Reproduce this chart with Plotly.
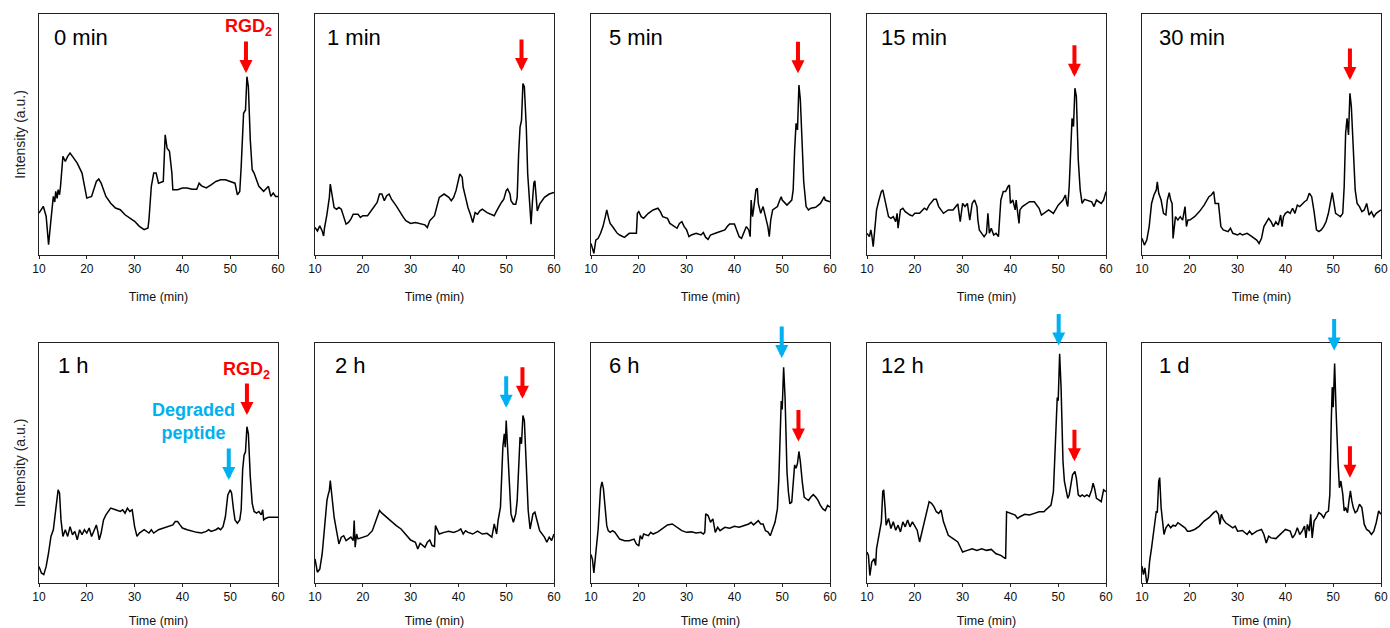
import plotly.graph_objects as go

# ---------------- data (retention time in min, intensity in a.u., 0-100 scale) -------------
panel_labels = ["0 min", "1 min", "5 min", "15 min", "30 min", "1 h", "2 h", "6 h", "12 h", "1 d"]
tick_vals = [10, 20, 30, 40, 50, 60]

t_0min = [10, 10.9, 11.5, 12, 12.5, 13, 13.3, 13.5, 13.8, 14, 14.3, 14.5, 15, 15.5, 16, 16.5, 17, 18, 19, 19.5,
          20, 21, 22, 22.5, 23, 24, 25, 26, 27, 28, 29, 30, 31, 32, 32.8, 33, 33.5, 34, 34.5, 35,
          36, 36.4, 36.8, 37.3, 37.8, 38, 39, 40, 41, 42, 43, 43.5, 44, 45, 46, 47, 48, 49, 50, 51,
          51.5, 52, 52.3, 52.8, 53.2, 53.5, 53.8, 54.2, 54.6, 55, 55.5, 56, 57, 58, 58.5, 59, 59.5, 60]
i_0min = [17.4, 20.2, 16.0, 4.3, 14.6, 24.3, 22.0, 26.4, 23.5, 27.1, 25.0, 28.5, 40.9, 38.8, 40.9, 42.3, 40.9, 38.1, 34.0, 28.5,
          23.6, 24.3, 30.5, 31.5, 29.8, 24.3, 21.5, 19.5, 18.8, 16.7, 15.3, 14.0, 11.9, 10.5, 11.2, 14.6, 28.5, 34.0, 34.0, 29.8,
          30.5, 49.9, 44.3, 43.0, 34.0, 27.1, 27.1, 27.8, 27.8, 27.3, 27.3, 29.8, 28.7, 27.8, 29.1, 30.5, 31.2, 31.2, 30.5, 29.8,
          25.0, 26.4, 36.7, 58.8, 60.2, 74.0, 69.9, 47.8, 35.4, 34.0, 31.2, 28.5, 26.4, 28.5, 24.3, 25.7, 24.3, 24.3]

t_1min = [10, 10.5, 11, 11.5, 11.8, 12, 12.5, 13, 13.2, 13.5, 14, 14.5, 15, 15.5, 16, 16.5, 17, 17.5, 18, 19,
          19.5, 20, 21, 22, 23, 23.5, 24, 24.5, 25, 25.5, 26, 27, 28, 28.5, 29, 30, 31, 32, 33, 33.5,
          34, 35, 35.5, 36, 37, 38, 38.5, 39, 39.5, 40, 40.3, 40.8, 41, 41.5, 42, 42.5, 43, 43.5, 44, 44.5,
          45, 46, 47, 47.5, 48, 48.5, 49, 49.5, 50, 50.3, 50.8, 51, 51.5, 52, 52.3, 52.6, 52.9, 53.2, 53.5, 53.8,
          54.2, 54.5, 55, 55.2, 55.5, 55.8, 56, 56.3, 56.5, 57, 58, 59, 59.5, 60]
i_1min = [11.4, 10.0, 12.1, 10.0, 7.9, 11.4, 16.9, 23.9, 29.4, 25.3, 19.7, 19.0, 19.7, 19.0, 15.6, 12.8, 13.5, 14.9, 16.9, 16.9,
          15.6, 16.3, 16.3, 19.0, 21.8, 25.3, 25.3, 22.5, 24.6, 25.3, 23.2, 20.4, 16.9, 15.6, 14.2, 13.1, 13.5, 13.1, 12.5, 11.4,
          14.2, 16.3, 19.7, 23.9, 25.3, 23.9, 22.5, 23.9, 26.7, 30.8, 33.6, 32.2, 28.1, 23.9, 19.7, 16.9, 13.5, 17.6, 16.9, 18.3,
          19.0, 17.6, 16.9, 16.3, 18.3, 20.4, 21.8, 23.2, 26.7, 27.4, 25.3, 22.5, 21.1, 21.1, 23.9, 41.9, 53.1, 55.8, 71.1, 69.7,
          53.1, 33.6, 21.1, 12.8, 22.5, 30.1, 30.8, 22.5, 18.3, 21.1, 23.9, 25.3, 25.6, 26.0]

t_5min = [10, 10.3, 10.6, 11, 11.5, 12, 12.5, 13, 13.3, 13.7, 14, 14.5, 15, 15.5, 16, 17, 18, 19, 19.5, 19.7,
          20, 20.5, 21, 22, 23, 24, 24.5, 25, 26, 26.5, 27, 28, 28.5, 29, 29.5, 30, 30.5, 31, 32, 33,
          33.5, 34, 34.5, 35, 36, 37, 38, 38.5, 39, 40, 40.5, 41, 41.5, 42, 42.5, 43, 43.3, 43.5, 43.8, 44,
          44.5, 44.8, 45, 45.5, 46, 46.5, 47, 47.3, 47.6, 48, 49, 49.5, 49.8, 50, 51, 52, 52.3, 52.6, 52.9, 53.2,
          53.5, 53.8, 54.2, 54.5, 55, 55.5, 56, 57, 58, 58.8, 59, 60]
i_5min = [4.8, 2.8, 0.7, 6.2, 6.9, 9.0, 11.8, 15.9, 18.7, 15.2, 13.1, 11.8, 10.4, 9.0, 8.3, 7.3, 9.0, 9.0, 9.0, 17.3,
          18.0, 15.9, 15.2, 17.3, 18.7, 19.4, 18.0, 15.9, 15.2, 13.1, 12.4, 11.1, 13.1, 13.8, 11.8, 10.4, 7.6, 8.3, 9.0, 8.3,
          9.3, 7.3, 6.5, 8.3, 9.0, 9.7, 10.4, 11.8, 12.9, 12.9, 10.4, 7.6, 6.9, 9.0, 11.8, 10.4, 7.6, 22.8, 15.9, 18.7,
          27.0, 27.7, 21.4, 17.3, 20.1, 15.9, 11.8, 7.6, 14.5, 18.7, 20.1, 22.8, 24.2, 22.8, 20.7, 22.8, 27.0, 43.6, 54.6, 51.9,
          70.5, 64.3, 40.8, 30.4, 20.1, 18.7, 19.4, 19.8, 21.4, 24.2, 22.8, 22.1]

t_15min = [10, 10.5, 10.8, 11, 11.3, 11.6, 12, 12.5, 13, 13.3, 13.7, 14, 14.5, 15, 15.5, 16, 16.3, 16.5, 17, 17.5,
           18, 19, 19.5, 20, 21, 22, 22.5, 23, 24, 24.5, 25, 26, 27, 28, 29, 29.5, 30, 30.5, 31, 31.5,
           32, 32.5, 33, 33.2, 33.5, 34, 34.5, 35, 35.3, 35.6, 36, 36.5, 37, 37.5, 38, 38.5, 39, 39.5, 39.8, 40,
           40.5, 41, 41.2, 41.8, 42, 42.5, 43, 44, 45, 46, 46.5, 47, 48, 49, 50, 51, 51.5, 51.8, 52, 52.3,
           52.6, 52.9, 53.2, 53.5, 53.8, 54.2, 54.6, 55, 55.5, 56, 57, 57.5, 58, 59, 59.5, 60]
i_15min = [9.0, 7.6, 10.4, 8.3, 3.5, 9.0, 18.7, 22.8, 26.3, 27.0, 22.8, 20.1, 15.9, 15.2, 15.9, 13.8, 17.3, 11.1, 18.7, 19.4,
           18.0, 16.6, 16.2, 17.3, 17.3, 19.4, 18.7, 20.7, 23.1, 23.1, 20.1, 17.3, 18.7, 18.7, 21.2, 13.8, 21.4, 20.1, 21.4, 14.5,
           21.4, 22.8, 20.1, 14.5, 10.4, 9.0, 7.6, 9.0, 17.3, 9.0, 11.1, 8.3, 9.0, 7.6, 22.8, 26.3, 26.3, 28.4, 29.0, 21.4,
           22.8, 18.7, 22.8, 13.1, 18.7, 20.1, 20.7, 22.1, 22.1, 19.4, 16.6, 17.3, 18.7, 17.3, 20.7, 22.8, 24.9, 21.4, 20.1, 28.4,
           46.3, 56.7, 53.3, 69.2, 65.7, 39.4, 27.0, 21.4, 23.1, 22.8, 22.1, 20.1, 22.8, 21.4, 22.8, 26.3]

t_30min = [10, 10.5, 11, 11.5, 12, 12.5, 13, 13.2, 13.5, 14, 14.5, 15, 15.3, 15.7, 16, 16.3, 16.5, 17, 17.5, 18,
           18.5, 19, 19.3, 19.6, 20, 21, 22, 23, 24, 24.5, 25, 25.3, 26, 26.5, 27, 28, 28.5, 29, 30, 30.5,
           31, 32, 33, 34, 34.5, 35, 35.5, 36, 36.5, 37, 37.5, 38, 38.5, 39, 39.3, 39.6, 40, 40.5, 41, 41.5,
           42, 42.5, 43, 44, 44.5, 45, 45.5, 46, 46.5, 47, 47.5, 48, 48.5, 49, 49.5, 49.8, 50, 50.5, 51, 51.5,
           52, 52.3, 52.6, 52.9, 53.2, 53.5, 53.8, 54.2, 54.6, 55, 55.5, 56, 56.5, 57, 57.5, 58, 58.5, 59, 59.5, 60]
i_30min = [6.9, 4.1, 6.2, 11.8, 21.4, 24.9, 27.0, 30.4, 25.6, 22.8, 17.3, 16.6, 22.8, 25.9, 22.8, 21.4, 6.9, 15.9, 14.5, 15.9,
           14.5, 20.1, 11.8, 14.5, 14.5, 15.9, 18.0, 20.7, 24.2, 24.9, 26.3, 21.4, 21.4, 11.8, 10.4, 9.7, 11.1, 9.0, 8.3, 9.0,
           8.3, 9.0, 7.6, 6.2, 4.8, 6.9, 11.8, 13.8, 15.2, 13.8, 11.8, 13.8, 12.4, 16.6, 11.8, 15.9, 17.3, 18.0, 17.3, 19.4,
           17.3, 20.7, 20.1, 22.1, 22.8, 25.6, 24.2, 18.0, 10.4, 9.7, 10.4, 11.8, 13.8, 17.3, 22.8, 25.9, 23.5, 17.3, 16.6, 15.9,
           17.3, 28.4, 50.5, 56.7, 49.8, 67.1, 61.5, 40.8, 27.0, 21.4, 20.1, 18.0, 18.7, 21.4, 16.6, 18.0, 15.9, 17.3, 18.0, 18.7]

t_1h = [10, 10.5, 11, 11.5, 12, 12.5, 13, 13.5, 14, 14.3, 14.6, 15, 15.5, 16, 16.5, 17, 17.5, 18, 18.5, 19,
        19.5, 20, 20.5, 21, 21.5, 22, 22.3, 22.6, 23, 23.5, 24, 25, 26, 27, 27.5, 28, 28.5, 29, 29.5, 30,
        30.5, 31, 32, 33, 33.5, 34, 35, 36, 37, 38, 38.5, 39, 39.5, 40, 41, 42, 43, 44, 45, 45.5,
        46, 47, 47.5, 48, 48.5, 49, 49.5, 50, 50.3, 50.7, 51, 51.5, 52, 52.3, 52.6, 52.9, 53.2, 53.5, 53.8, 54.2,
        54.6, 55, 55.5, 56, 56.5, 56.8, 57, 57.5, 58, 59, 60]
i_1h = [6.9, 4.2, 3.5, 6.9, 12.5, 19.4, 22.2, 31.9, 38.8, 37.4, 26.3, 19.4, 22.2, 19.4, 23.5, 20.1, 21.5, 18.0, 22.2, 20.1,
        22.2, 20.8, 22.9, 19.4, 22.2, 24.2, 21.5, 18.0, 20.8, 26.3, 28.4, 31.2, 30.5, 29.8, 30.5, 29.1, 31.2, 29.8, 30.5, 23.5,
        19.4, 20.8, 22.2, 20.8, 22.2, 20.8, 22.2, 22.9, 23.5, 24.2, 25.6, 25.6, 24.2, 22.9, 22.2, 21.5, 21.1, 20.8, 21.5, 22.2,
        21.5, 22.2, 22.9, 22.2, 23.5, 27.7, 36.7, 38.8, 37.4, 30.5, 26.3, 24.9, 26.3, 30.5, 47.1, 53.3, 54.7, 65.1, 62.3, 44.3,
        33.2, 29.8, 29.1, 29.8, 28.4, 30.5, 26.3, 27.0, 27.4, 27.4, 27.4]

t_2h = [10, 10.5, 11, 11.5, 12, 12.5, 12.8, 13, 13.2, 13.5, 14, 14.5, 15, 15.5, 16, 16.5, 17, 17.5, 18, 18.2,
        18.4, 18.7, 19, 20, 21, 22, 22.5, 23, 23.5, 24, 25, 26, 27, 28, 29, 30, 31, 31.5, 32, 33,
        33.5, 34, 34.5, 35, 35.2, 36, 37, 38, 39, 40, 40.5, 41, 41.5, 42, 43, 44, 45, 46, 47, 47.5,
        48, 48.3, 48.8, 49, 49.3, 49.6, 49.8, 50, 50.3, 50.6, 51, 51.5, 52, 52.3, 52.6, 52.9, 53.2, 53.5, 53.8, 54.2,
        54.6, 55, 55.3, 55.6, 56, 56.5, 57, 58, 58.5, 59, 59.5, 60]
i_2h = [10.0, 4.5, 5.8, 12.1, 23.2, 34.4, 37.1, 38.5, 42.7, 35.7, 27.4, 21.8, 16.3, 19.1, 19.7, 17.7, 18.4, 19.1, 17.7, 26.0,
        14.9, 20.4, 18.4, 19.1, 19.7, 21.8, 24.6, 27.4, 30.2, 29.1, 27.4, 25.3, 23.9, 22.5, 20.4, 17.9, 17.0, 14.2, 16.6, 14.9,
        17.0, 17.9, 15.6, 15.2, 23.9, 20.4, 21.1, 21.6, 21.1, 21.8, 22.5, 20.4, 21.8, 21.1, 20.4, 21.6, 20.4, 20.7, 19.1, 24.6,
        20.4, 26.0, 31.6, 42.7, 56.6, 62.2, 56.6, 67.7, 56.6, 42.7, 28.8, 25.3, 28.8, 34.4, 49.7, 60.8, 58.0, 69.8, 67.7, 49.7,
        30.2, 22.5, 26.0, 28.8, 29.5, 26.0, 21.8, 19.1, 17.0, 19.1, 17.7, 20.4]

t_6h = [10, 10.3, 10.6, 11, 11.5, 12, 12.3, 12.6, 13, 13.3, 13.6, 14, 14.5, 15, 16, 17, 18, 19, 19.5, 20,
        20.3, 20.7, 21, 22, 22.5, 23, 24, 25, 26, 27, 28, 29, 30, 31, 32, 33, 33.5, 33.8, 34, 34.5,
        35, 35.5, 36, 36.5, 37, 38, 39, 40, 41, 42, 43, 43.5, 44, 45, 45.5, 46, 46.5, 47, 47.5, 48,
        48.5, 49, 49.3, 49.6, 49.8, 50, 50.3, 50.6, 50.8, 51, 51.3, 51.6, 52, 52.3, 52.6, 52.9, 53.2, 53.5, 53.8, 54.2,
        54.6, 55, 55.5, 56, 56.5, 57, 57.5, 58, 58.5, 59, 59.5, 60]
i_6h = [11.9, 9.8, 4.2, 11.2, 22.5, 39.3, 42.1, 39.3, 29.5, 23.9, 21.8, 21.1, 21.8, 21.1, 18.3, 17.6, 17.6, 18.3, 16.2, 15.4,
        19.7, 18.3, 20.4, 19.7, 21.1, 20.4, 21.3, 22.8, 24.2, 24.6, 23.2, 21.8, 21.1, 21.3, 20.8, 21.1, 20.4, 21.1, 28.8, 28.1,
        25.3, 26.7, 21.1, 23.2, 21.8, 23.2, 22.8, 23.6, 23.2, 23.9, 24.6, 25.3, 24.2, 26.0, 24.6, 24.6, 21.8, 21.3, 19.7, 22.5,
        25.3, 30.9, 43.5, 63.2, 75.8, 72.3, 89.9, 77.2, 61.8, 46.3, 37.9, 33.0, 33.7, 42.1, 49.2, 47.8, 49.9, 54.8, 50.6, 42.1,
        35.8, 35.1, 34.4, 35.8, 36.8, 35.8, 34.4, 32.3, 30.9, 30.2, 32.3, 31.6]

t_12h = [10, 10.3, 10.6, 11, 11.5, 11.8, 12, 12.5, 13, 13.3, 13.5, 13.8, 14, 14.5, 15, 15.5, 16, 16.5, 17, 17.5,
         18, 18.5, 19, 19.5, 20, 20.5, 21, 21.5, 22, 22.5, 23, 23.5, 24, 24.5, 25, 25.5, 26, 26.5, 27, 28,
         28.5, 29, 29.5, 30, 31, 32, 33, 34, 35, 36, 37, 38, 38.5, 39, 39.2, 40, 41, 41.5, 42, 43,
         44, 45, 46, 47, 48, 48.5, 49, 49.3, 49.6, 49.8, 50, 50.3, 50.6, 50.8, 51, 51.3, 51.6, 52, 52.3, 52.6,
         53, 53.5, 53.8, 54.2, 54.6, 55, 55.5, 56, 56.5, 57, 57.3, 57.6, 58, 58.5, 59, 59.5, 60]
i_12h = [12.9, 11.5, 3.1, 8.7, 10.1, 7.3, 14.3, 19.9, 25.5, 38.1, 38.8, 31.1, 24.1, 26.9, 22.7, 25.5, 22.0, 24.1, 21.3, 25.5,
         23.4, 26.2, 23.4, 25.5, 23.8, 22.0, 17.1, 21.3, 25.5, 29.7, 33.9, 33.2, 31.8, 29.7, 29.0, 30.4, 25.5, 22.7, 19.9, 18.5,
         17.8, 17.1, 15.0, 12.9, 13.6, 14.3, 13.6, 14.3, 13.6, 14.0, 12.2, 11.5, 10.8, 10.1, 29.7, 29.0, 28.3, 26.9, 27.6, 28.6,
         28.3, 29.0, 29.7, 29.7, 31.8, 32.5, 38.1, 50.7, 67.5, 77.3, 75.9, 95.5, 81.5, 64.7, 50.7, 42.3, 39.5, 35.3, 36.7, 40.9,
         45.1, 46.5, 43.7, 36.7, 36.0, 36.7, 36.0, 36.7, 36.0, 38.8, 41.6, 39.5, 35.3, 34.6, 33.9, 38.8, 38.1]

t_1d = [10, 10.3, 10.6, 11, 11.3, 11.6, 12, 12.5, 13, 13.2, 13.5, 13.7, 14, 14.3, 14.6, 15, 15.5, 16, 16.5, 17,
        17.5, 18, 19, 19.5, 20, 21, 22, 23, 24, 25, 25.5, 26, 26.3, 26.6, 27, 27.5, 28, 29, 29.5, 30,
        31, 32, 32.5, 33, 34, 35, 35.5, 36, 36.5, 37, 38, 39, 40, 41, 41.5, 42, 42.5, 43, 43.5, 44,
        44.3, 44.6, 45, 45.3, 45.6, 46, 46.5, 47, 47.5, 48, 48.5, 49, 49.3, 49.6, 49.8, 50, 50.3, 50.6, 50.8, 51,
        51.3, 51.6, 52, 52.3, 52.6, 53, 53.3, 53.6, 53.9, 54.2, 54.6, 55, 55.5, 56, 56.5, 57, 57.5, 58, 58.5, 59,
        59.5, 60]
i_1d = [7.0, 3.5, 6.3, 0.0, 2.1, 9.1, 14.6, 23.0, 30.0, 29.3, 42.5, 43.9, 31.4, 25.8, 20.2, 23.0, 24.4, 23.0, 24.1, 23.7,
        25.1, 24.4, 23.0, 21.6, 21.6, 22.3, 23.7, 25.8, 27.2, 29.3, 30.0, 28.6, 24.4, 28.6, 26.5, 25.1, 24.4, 23.0, 23.7, 21.6,
        21.9, 20.2, 21.6, 20.2, 21.6, 22.3, 20.2, 16.7, 19.5, 18.8, 18.5, 20.2, 22.3, 21.6, 18.8, 20.2, 23.0, 20.2, 21.6, 23.7,
        18.8, 24.4, 21.6, 28.6, 18.8, 25.8, 27.2, 29.3, 28.6, 27.2, 29.3, 30.0, 37.0, 67.6, 81.6, 73.2, 91.4, 71.8, 59.3, 50.9,
        39.7, 42.5, 37.0, 30.0, 31.4, 29.3, 34.2, 38.4, 34.2, 31.4, 29.3, 30.0, 32.8, 31.4, 24.4, 22.3, 21.6, 20.2, 21.6, 25.1,
        30.0, 28.6]

# arrow tips (time, intensity) for RGD2 (red) and degraded peptide (blue)
red_arrow_t = [53.3, 53.2, 53.3, 53.4, 53.5, 53.5, 53.4, 53.4, 53.4, 53.5]
red_arrow_i = [75.5, 76.4, 75.4, 74.0, 72.6, 70.0, 76.8, 59.0, 50.7, 43.9]
blue_arrow_t = [None, None, None, None, None, 49.7, 50.0, 49.9, 50.1, 50.2]
blue_arrow_i = [None, None, None, None, None, 42.9, 73.0, 93.8, 99.0, 96.9]

times = [t_0min, t_1min, t_5min, t_15min, t_30min, t_1h, t_2h, t_6h, t_12h, t_1d]
intens = [i_0min, i_1min, i_5min, i_15min, i_30min, i_1h, i_2h, i_6h, i_12h, i_1d]

# ---------------- layout / style ----------------
W, H = 1390, 628
PW = 239
col_left_px = [39, 315, 591, 867, 1142]
row_top_px = [14, 343]
row_bot_px = [255, 583]
label_dx_px = [13, 10, 16, 12, 15, 17, 18, 16, 12, 15]
FONT = "Arial, 'Liberation Sans', Helvetica, sans-serif"
RED = "#ff0000"
BLUE = "#00b0f0"

fig = go.Figure()
annotations = []
for k in range(10):
    r, c = divmod(k, 5)
    xa = "x" if k == 0 else f"x{k + 1}"
    ya = "y" if k == 0 else f"y{k + 1}"
    fig.add_trace(go.Scatter(x=times[k], y=intens[k], mode="lines",
                             line=dict(color="black", width=1.5),
                             xaxis=xa, yaxis=ya, showlegend=False, hoverinfo="skip"))
    left = col_left_px[c]
    xkey = "xaxis" if k == 0 else f"xaxis{k + 1}"
    ykey = "yaxis" if k == 0 else f"yaxis{k + 1}"
    fig.update_layout({
        xkey: dict(domain=[left / W, (left + PW) / W], anchor=ya, range=[10, 60],
                   tickvals=tick_vals, ticks="outside", ticklen=3, tickcolor="#222",
                   showline=True, mirror=True, linecolor="#222", linewidth=1,
                   showgrid=False, zeroline=False, automargin=False, fixedrange=True,
                   tickfont=dict(size=12, color="#111", family=FONT),
                   title=dict(text="Time (min)", font=dict(size=12.5, color="#111", family=FONT), standoff=16)),
        ykey: dict(domain=[1 - row_bot_px[r] / H, 1 - row_top_px[r] / H], anchor=xa, range=[0, 100],
                   showticklabels=False, ticks="", showline=True, mirror=True, linecolor="#222", linewidth=1,
                   showgrid=False, zeroline=False, automargin=False, fixedrange=True,
                   title=dict(text="Intensity (a.u.)" if c == 0 else "",
                              font=dict(size=14, color="#222", family=FONT), standoff=9)),
    })
    dom = "x domain" if k == 0 else f"x{k + 1} domain"
    ydom = "y domain" if k == 0 else f"y{k + 1} domain"
    annotations.append(dict(text=panel_labels[k], xref=dom, yref=ydom,
                            x=label_dx_px[k] / PW, y=1 - 23 / 241, xanchor="left", yanchor="middle",
                            showarrow=False, font=dict(size=22, color="black", family=FONT)))
    annotations.append(dict(text="", xref=xa, yref=ya, x=red_arrow_t[k], y=red_arrow_i[k],
                            ax=0, ay=-33, showarrow=True, arrowhead=2, arrowsize=0.65,
                            arrowwidth=4, arrowcolor=RED))
    if blue_arrow_t[k] is not None:
        annotations.append(dict(text="", xref=xa, yref=ya, x=blue_arrow_t[k], y=blue_arrow_i[k],
                                ax=0, ay=-33, showarrow=True, arrowhead=2, arrowsize=0.65,
                                arrowwidth=4, arrowcolor=BLUE))

# text labels
annotations.append(dict(text="<b>RGD<sub>2</sub></b>", xref="x", yref="y", x=53.9, y=94.2,
                        showarrow=False, font=dict(size=18, color=RED, family=FONT)))
annotations.append(dict(text="<b>RGD<sub>2</sub></b>", xref="x6", yref="y6", x=53.5, y=88.7,
                        showarrow=False, font=dict(size=18, color=RED, family=FONT)))
annotations.append(dict(text="<b>Degraded<br>peptide</b>", xref="x6", yref="y6", x=42.3, y=67.5,
                        showarrow=False, align="center", font=dict(size=18, color=BLUE, family=FONT)))

fig.update_layout(width=W, height=H, margin=dict(l=0, r=0, t=0, b=0),
                  paper_bgcolor="white", plot_bgcolor="white", template="none",
                  font=dict(family=FONT), annotations=annotations, showlegend=False)

fig.write_html("out.html", config={"displayModeBar": False, "staticPlot": False},
               post_script="document.body.style.margin='0';document.body.style.overflow='hidden';")
